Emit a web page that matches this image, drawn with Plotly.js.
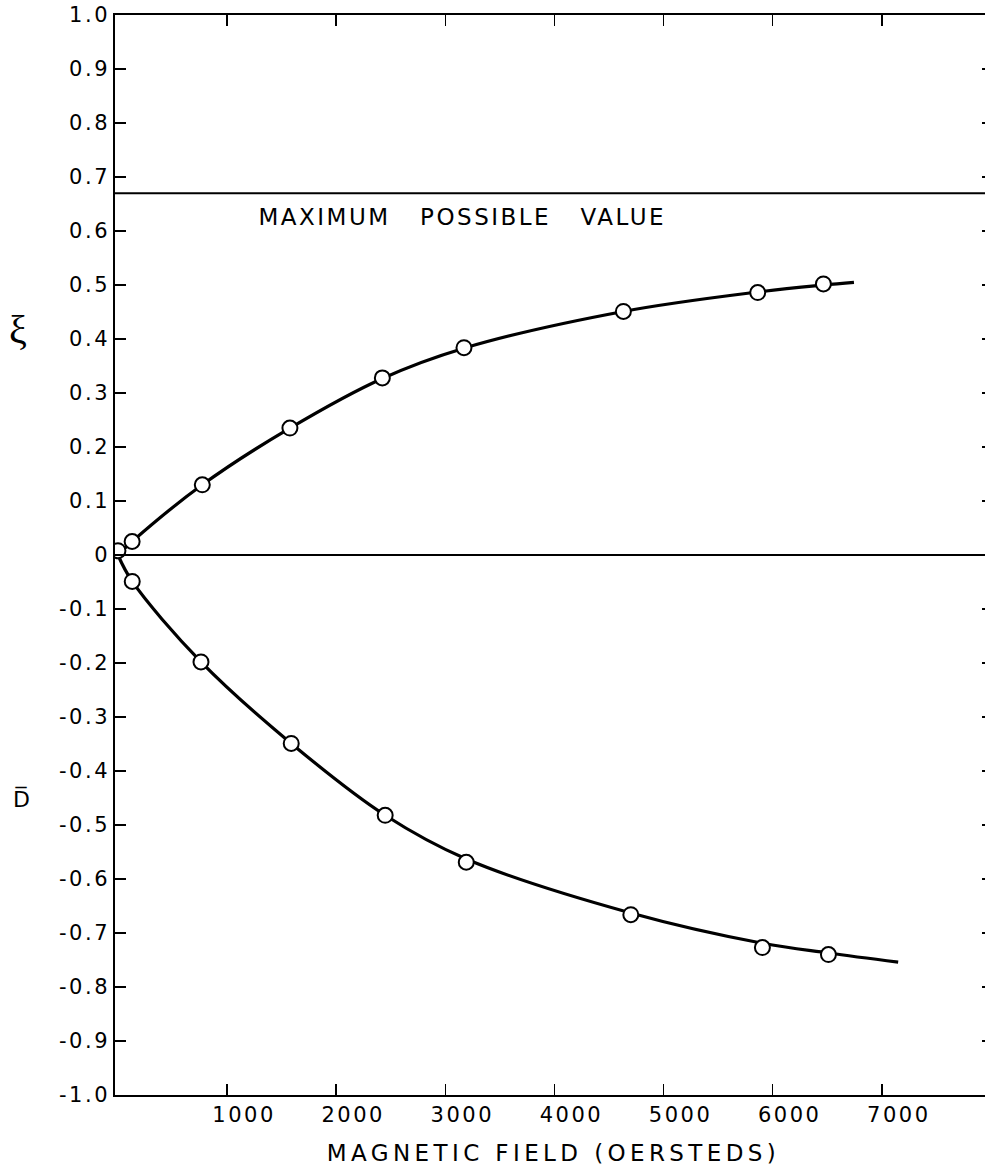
<!DOCTYPE html>
<html><head><meta charset="utf-8">
<script src="https://cdn.plot.ly/plotly-3.0.1.min.js"></script>
<style>
html,body{margin:0;padding:0;overflow:hidden;background:#fff}
.xtitle{letter-spacing:4.4px}
g.annotation[data-index="0"] .annotation-text{letter-spacing:2.5px}
.xtick text,.ytick text,.y3tick text{letter-spacing:2.5px}
</style></head>
<body><div id="chart" style="width:995px;height:1169px"></div>
<script>
// Measured points (magnetic field in oersteds)
const fieldXi = [0, 130, 773, 1576, 2423, 3171, 4632, 5863, 6465];
const valueXi = [0.008, 0.025, 0.13, 0.235, 0.328, 0.384, 0.451, 0.486, 0.502];
const fieldD = [131, 761, 1588, 2449, 3192, 4700, 5906, 6511];
const valueD = [-0.049, -0.198, -0.349, -0.482, -0.569, -0.666, -0.727, -0.740];
// Drawn smooth curves
const curveXiX = [0, 130, 773, 1576, 2423, 3171, 4632, 5863, 6465, 6745];
const curveXiY = [0, 0.025, 0.13, 0.235, 0.327, 0.383, 0.451, 0.487, 0.500, 0.505];
const curveDX = [0, 131, 761, 1588, 2449, 3192, 4700, 5906, 6511, 7150];
const curveDY = [0, -0.049, -0.198, -0.349, -0.482, -0.563, -0.663, -0.719, -0.737, -0.754];
const maxPossible = 0.67;
const xTickVals = [1000, 2000, 3000, 4000, 5000, 6000, 7000];
const xTickText = ['1000', '2000', '3000', '4000', '5000', '6000', '7000'];
const yTickVals = [1.0, 0.9, 0.8, 0.7, 0.6, 0.5, 0.4, 0.3, 0.2, 0.1, 0, -0.1, -0.2, -0.3, -0.4, -0.5, -0.6, -0.7, -0.8, -0.9, -1.0];
const yTickText = ['1.0', '0.9', '0.8', '0.7', '0.6', '0.5', '0.4', '0.3', '0.2', '0.1', '0', '-0.1', '-0.2', '-0.3', '-0.4', '-0.5', '-0.6', '-0.7', '-0.8', '-0.9', '-1.0'];

const font = 'DejaVu Sans, sans-serif';
const traces = [
  {x: curveXiX, y: curveXiY, mode: 'lines', line: {color: '#000', width: 3.2, shape: 'spline', smoothing: 1}, hoverinfo: 'skip', showlegend: false},
  {x: curveDX, y: curveDY, mode: 'lines', line: {color: '#000', width: 3.2, shape: 'spline', smoothing: 1}, hoverinfo: 'skip', showlegend: false},
  {x: fieldXi, y: valueXi, mode: 'markers', marker: {symbol: 'circle', size: 15, color: '#fff', line: {color: '#000', width: 2}}, showlegend: false},
  {x: fieldD, y: valueD, mode: 'markers', marker: {symbol: 'circle', size: 15, color: '#fff', line: {color: '#000', width: 2}}, showlegend: false},
  {x: [0], y: [0], yaxis: 'y2', mode: 'markers', marker: {opacity: 0}, hoverinfo: 'skip', showlegend: false},
  {x: [0], y: [0], yaxis: 'y3', mode: 'markers', marker: {opacity: 0}, hoverinfo: 'skip', showlegend: false}
];

const padL = 100, padR = 3, figW = 995;
const paperW = figW - padL - padR;
const axisPx = 115;       // left frame position
const labelAxisPx = 110;  // reference point for the tick labels
const layout = {
  width: figW, height: 1169,
  margin: {l: padL, r: padR, t: 15, b: 74},
  paper_bgcolor: '#fff', plot_bgcolor: '#fff',
  font: {family: font, color: '#000', size: 21},
  showlegend: false,
  xaxis: {
    domain: [(axisPx - padL) / paperW, 1],
    range: [-27, 8010], showgrid: false, zeroline: false,
    showline: true, linecolor: '#000', linewidth: 2, mirror: 'ticks',
    ticks: 'inside', ticklen: 11, tickwidth: 1.5, tickcolor: '#000',
    tickvals: xTickVals, ticktext: xTickText, ticklabelshift: 17,
    tickfont: {family: font, size: 21, color: '#000'},
    title: {text: 'MAGNETIC FIELD (OERSTEDS)', font: {family: font, size: 23, color: '#000'}, standoff: 19},
    automargin: false
  },
  yaxis: {
    range: [-1, 1], showgrid: false,
    zeroline: true, zerolinecolor: '#000', zerolinewidth: 1.5,
    showline: true, linecolor: '#000', linewidth: 2, mirror: false,
    ticks: 'inside', ticklen: 11, tickwidth: 1.5, tickcolor: '#000',
    tickvals: yTickVals, showticklabels: false,
    automargin: false
  },
  yaxis2: {
    range: [-1, 1], overlaying: 'y', side: 'right', showgrid: false, zeroline: false,
    showline: false, ticks: 'inside', ticklen: 10, tickwidth: 1.5, tickcolor: '#000',
    tickvals: yTickVals, showticklabels: false
  },
  yaxis3: {
    range: [-1, 1], overlaying: 'y', anchor: 'free', side: 'left',
    position: (labelAxisPx - padL) / paperW,
    showgrid: false, zeroline: false, showline: false, ticks: '',
    tickvals: yTickVals, ticktext: yTickText,
    tickfont: {family: font, size: 21, color: '#000'},
    automargin: false
  },
  shapes: [
    {type: 'line', xref: 'paper', x0: (axisPx - padL) / paperW, x1: 1, yref: 'y', y0: maxPossible, y1: maxPossible, line: {color: '#000', width: 2}}
  ],
  annotations: [
    {text: 'MAXIMUM\u00a0\u00a0 POSSIBLE\u00a0\u00a0 VALUE', x: 3153, y: 0.626, xref: 'x', yref: 'y', showarrow: false, font: {family: font, size: 23, color: '#000'}},
    {text: '\u03be', xref: 'paper', x: 0, xanchor: 'center', xshift: 18 - padL, yref: 'y', y: 0.418, showarrow: false, font: {family: 'Liberation Serif, serif', size: 40, color: '#000'}},
    {text: 'D\u0305', xref: 'paper', x: 0, xanchor: 'center', xshift: 21 - padL, yref: 'y', y: -0.452, showarrow: false, font: {family: font, size: 22, color: '#000'}}
  ]
};

Plotly.newPlot('chart', traces, layout, {displayModeBar: false, staticPlot: true});
</script>
</body></html>
